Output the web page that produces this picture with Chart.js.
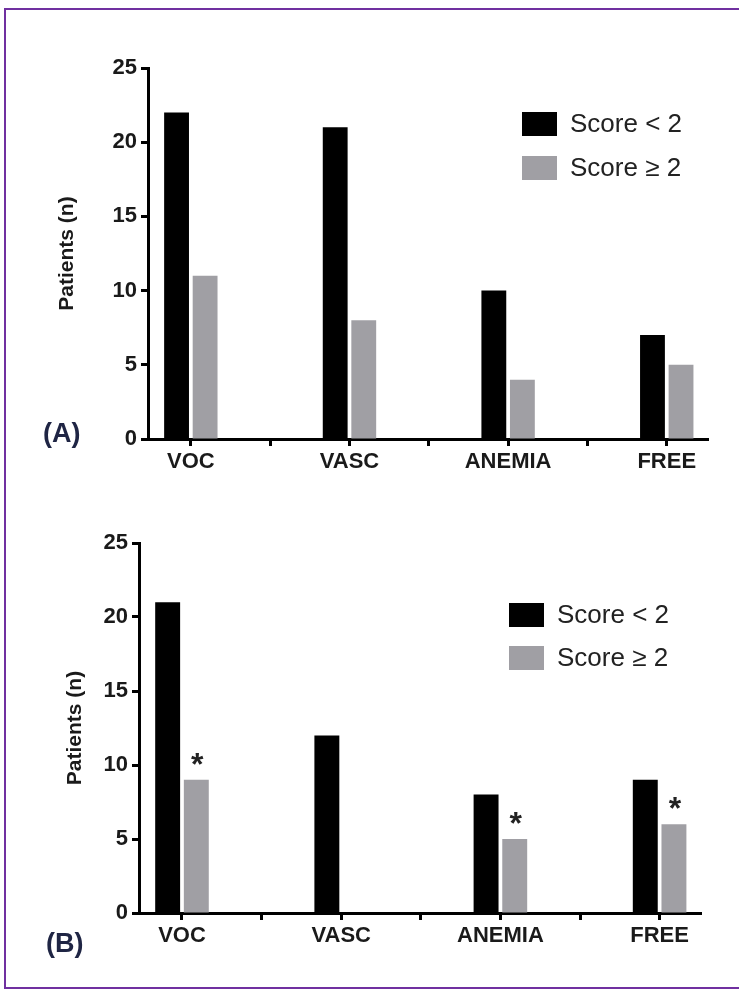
<!DOCTYPE html>
<html>
<head>
<meta charset="utf-8">
<title>Patients by score</title>
<script src="https://cdn.jsdelivr.net/npm/chart.js"></script>
<style>
  body { margin: 0; width: 739px; height: 990px; overflow: hidden; background: #fff; position: relative; font-family: 'Liberation Sans', Arial, sans-serif; }
  canvas { position: absolute; left: 0; }
  #chartA { top: 0; }
  #chartB { top: 495px; }
  .panel { position: absolute; font-weight: bold; font-size: 27px; line-height: 30px; color: #1f2544; }
  .frame { position: absolute; left: 4px; top: 8px; width: 760px; height: 981px; border: 2px solid #7030a0; box-sizing: border-box; pointer-events: none; }
</style>
</head>
<body>
<canvas id="chartA" width="739" height="495"></canvas>
<canvas id="chartB" width="739" height="495"></canvas>
<div class="panel" style="left:43px; top:418px">(A)</div>
<div class="panel" style="left:46px; top:928px">(B)</div>
<div class="frame"></div>
<script>
const categories = ['VOC', 'VASC', 'ANEMIA', 'FREE'];
const seriesLabels = ['Score < 2', 'Score \u2265 2'];
const yTicks = [0, 5, 10, 15, 20, 25];

// panel A
const lowA = [22, 21, 10, 7];
const highA = [11, 8, 4, 5];

// panel B
const lowB = [21, 12, 8, 9];
const highB = [9, 0, 5, 6];
const starsB = [true, false, true, true]; // asterisk over the grey bar

const FONT = "'Liberation Sans', Arial, sans-serif";
const BLACK = '#000000';
const GREY = '#a09fa4';

// legend drawn inside the plot area, like the original
const boxLegend = {
  id: 'boxLegend',
  afterDraw(chart, args, opts) {
    const ctx = chart.ctx;
    ctx.save();
    chart.data.datasets.forEach((ds, i) => {
      const y = opts.y + i * opts.gap;
      ctx.fillStyle = ds.backgroundColor;
      ctx.fillRect(opts.x, y, 35, 24);
      ctx.fillStyle = '#222';
      ctx.font = '26px ' + FONT;
      ctx.textBaseline = 'middle';
      ctx.fillText(ds.label, opts.x + 48, y + 13);
    });
    ctx.restore();
  }
};

const stars = {
  id: 'stars',
  afterDatasetsDraw(chart, args, opts) {
    if (!opts.flags) return;
    const meta = chart.getDatasetMeta(1);
    const ctx = chart.ctx;
    ctx.save();
    ctx.fillStyle = '#222';
    ctx.font = 'bold 32px ' + FONT;
    ctx.textAlign = 'center';
    ctx.textBaseline = 'alphabetic';
    opts.flags.forEach((f, i) => {
      if (!f) return;
      const bar = meta.data[i];
      ctx.fillText('*', bar.x + 1, bar.y - 22 + 17);
    });
    ctx.restore();
  }
};

function makeChart(id, low, high, cfg) {
  const toPoints = arr => arr.map((v, i) => ({ x: i, y: v }));
  return new Chart(document.getElementById(id), {
    type: 'bar',
    data: {
      datasets: [
        { label: seriesLabels[0], data: toPoints(low), backgroundColor: BLACK },
        { label: seriesLabels[1], data: toPoints(high), backgroundColor: GREY }
      ]
    },
    options: {
      responsive: false,
      animation: false,
      events: [],
      // the half-step ticks count as sample spacing, so this is relative to half a category
      categoryPercentage: 0.72,
      barPercentage: 0.87,
      layout: { padding: { top: cfg.top, right: cfg.right, left: 0, bottom: 0 } },
      plugins: {
        legend: { display: false },
        tooltip: { enabled: false },
        boxLegend: cfg.legend,
        stars: { flags: cfg.stars }
      },
      scales: {
        x: {
          type: 'linear',
          min: -0.27,
          max: 3.26,
          offset: false,
          afterFit: s => { s.height = cfg.xHeight; },
          grid: { offset: false, drawOnChartArea: false, drawTicks: true, tickLength: 7, tickWidth: 3, tickColor: '#000' },
          border: { display: true, color: '#000', width: 3 },
          ticks: {
            stepSize: 0.5,
            includeBounds: false,
            autoSkip: false,
            maxRotation: 0,
            padding: 3,
            color: '#1a1a1a',
            font: { family: FONT, size: 22, weight: 'bold' },
            callback: v => Number.isInteger(v) ? categories[v] : ''
          }
        },
        y: {
          min: 0,
          max: 25,
          afterBuildTicks: s => { s.ticks = yTicks.map(v => ({ value: v })); },
          afterFit: s => { s.width = cfg.yWidth; },
          grid: { drawOnChartArea: false, drawTicks: true, tickLength: 7, tickWidth: 3, tickColor: '#000' },
          border: { display: true, color: '#000', width: 3 },
          ticks: {
            padding: 4,
            color: '#1a1a1a',
            font: { family: FONT, size: 22, weight: 'bold' }
          },
          title: {
            display: true,
            text: 'Patients (n)',
            color: '#1a1a1a',
            padding: { top: cfg.titlePad, bottom: 0 },
            font: { family: FONT, size: 21, weight: 'bold' }
          }
        }
      }
    },
    plugins: [boxLegend, stars]
  });
}

makeChart('chartA', lowA, highA, {
  top: 68, right: 31, xHeight: 56, yWidth: 148, titlePad: 55,
  legend: { x: 522, y: 112, gap: 44 }
});

makeChart('chartB', lowB, highB, {
  top: 48, right: 38, xHeight: 77, yWidth: 139, titlePad: 63,
  legend: { x: 509, y: 108, gap: 43 },
  stars: starsB
});
</script>
</body>
</html>
